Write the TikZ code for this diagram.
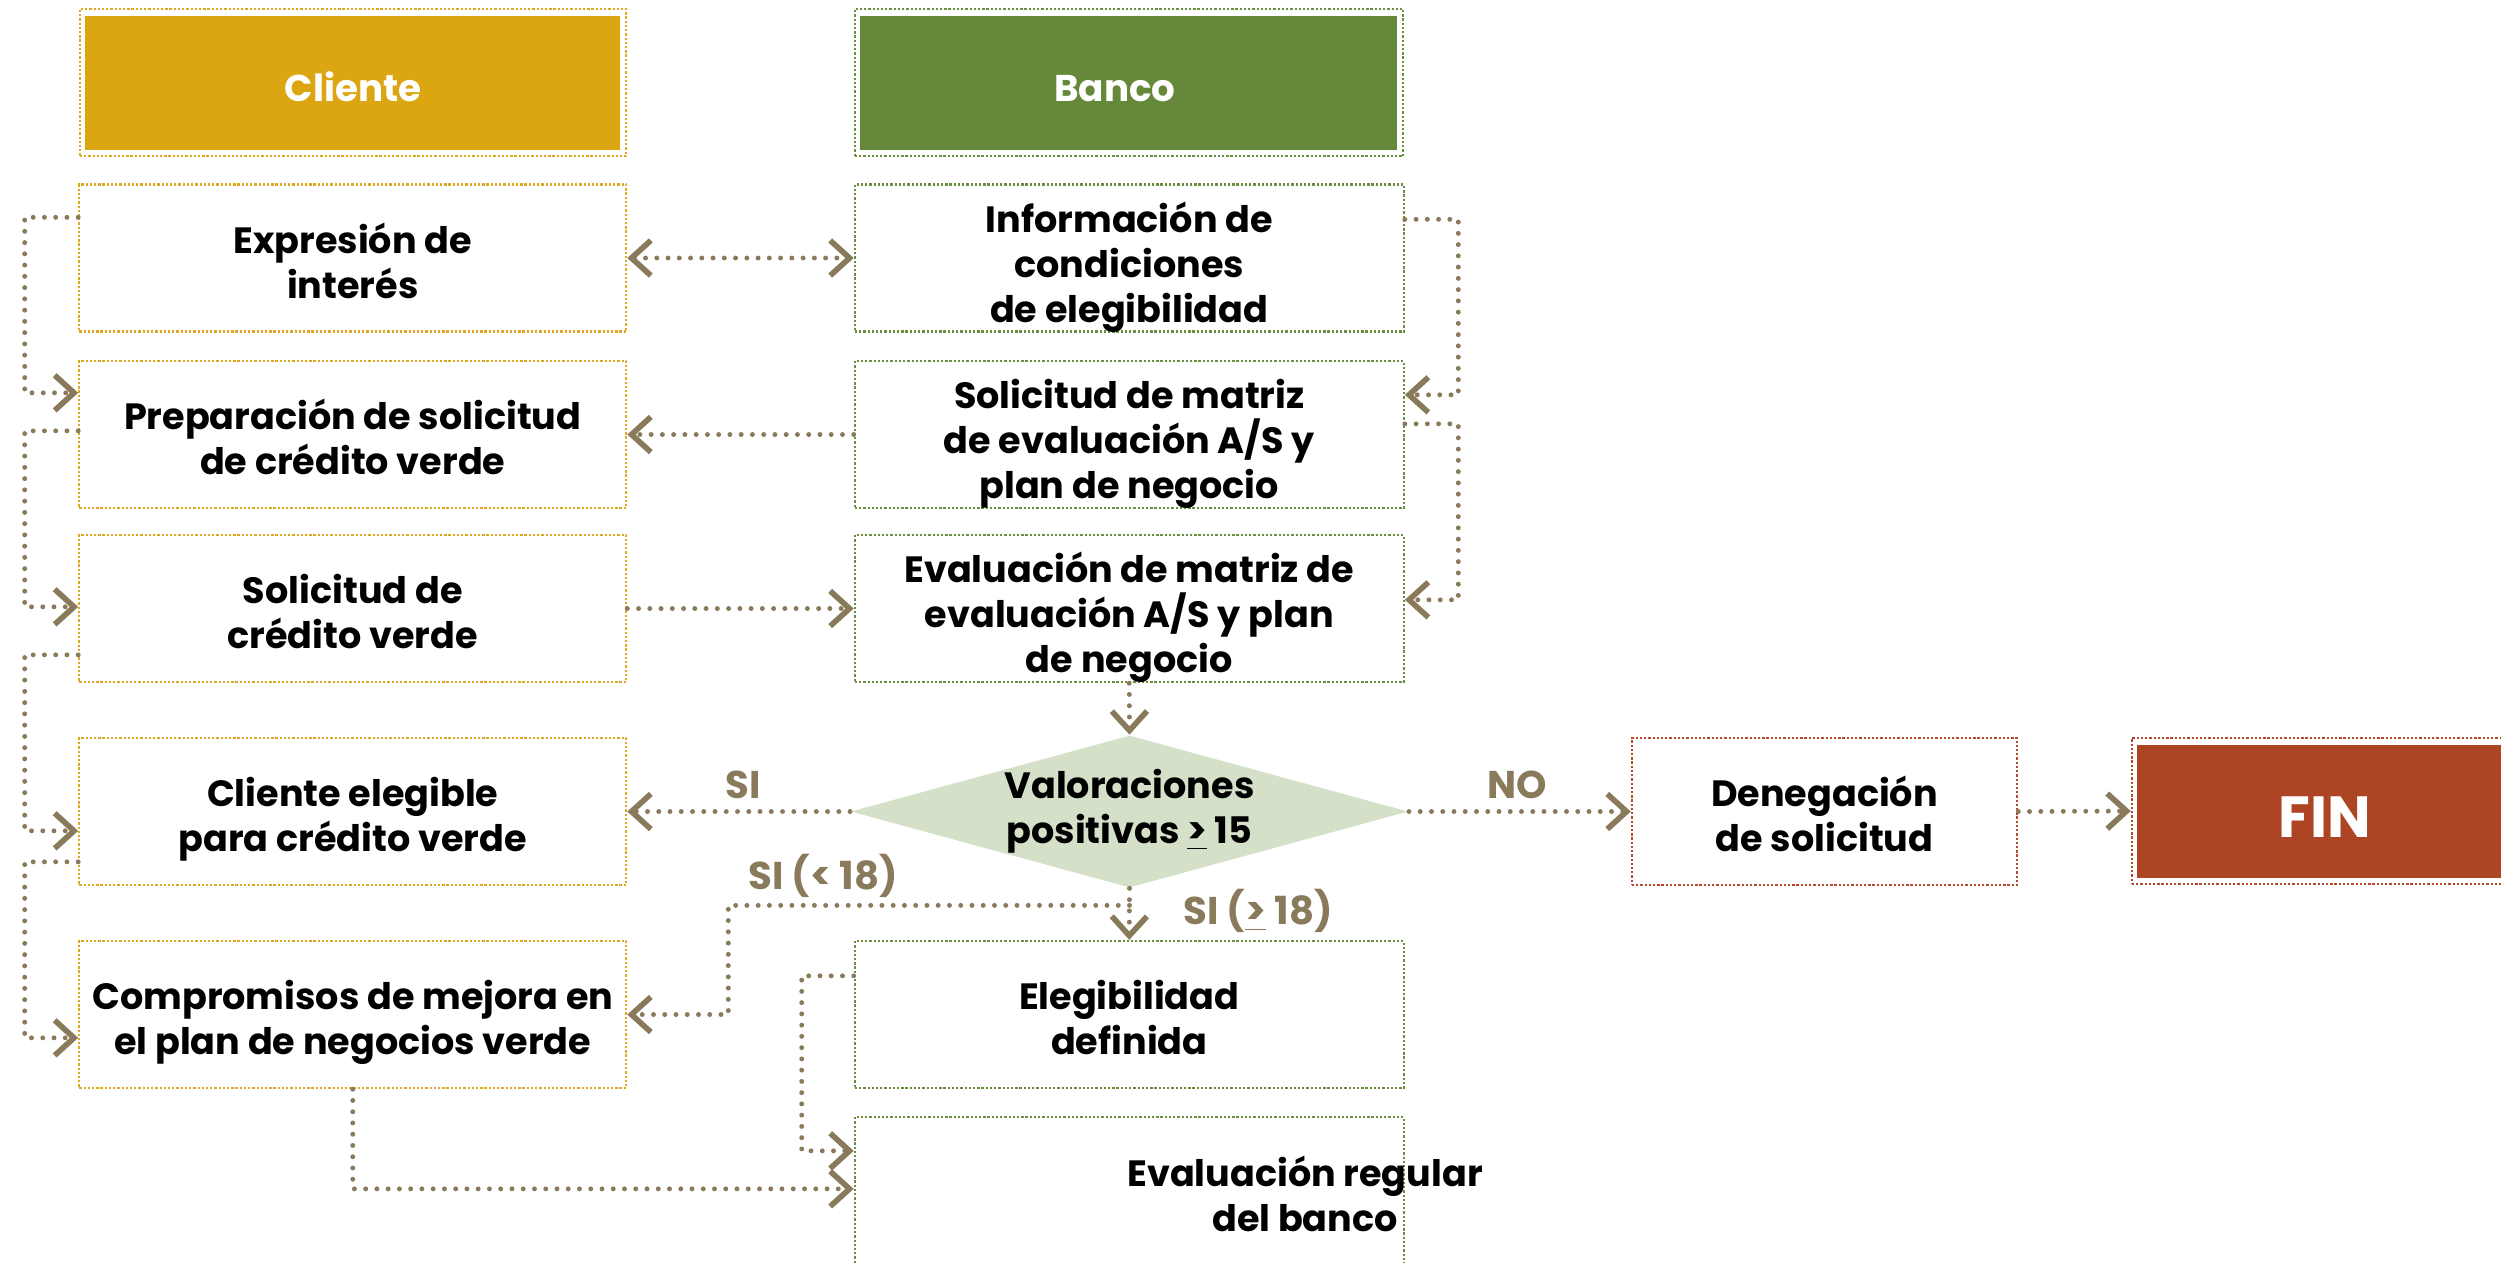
\documentclass[tikz,border=0pt]{standalone}
\usepackage{fontspec}
\setmainfont{Poppins}
\usetikzlibrary{arrows.meta,shapes.geometric,calc}
\definecolor{goldfill}{HTML}{DCA613}
\definecolor{goldline}{HTML}{E0A820}
\definecolor{greenfill}{HTML}{66883A}
\definecolor{greenline}{HTML}{6B8E3D}
\definecolor{redfill}{HTML}{AD4424}
\definecolor{redline}{HTML}{B84A2C}
\definecolor{taupe}{HTML}{8A7A5C}
\definecolor{diafill}{HTML}{D5E0C9}
\begin{document}
\begin{tikzpicture}[x=0.01cm,y=-0.01cm,
  txt/.style={font=\fontsize{10.4}{12.8}\selectfont\bfseries, align=center, inner sep=0pt, text=black},
  two/.style={text height=23pt, text depth=0pt},
  three/.style={text height=36.6pt, text depth=0pt},
  frame/.style={line width=0.65pt, dash pattern=on 0.65pt off 0.55pt},
  cbox/.style={txt, frame, draw=goldline, minimum width=5.465cm, minimum height=1.47cm},
  bbox/.style={txt, frame, draw=greenline, minimum width=5.485cm, minimum height=1.47cm},
  rbox/.style={txt, frame, draw=redline, minimum width=3.85cm, minimum height=1.47cm},
  headbox/.style={txt, frame, text=white, font=\fontsize{10.6}{13}\selectfont\bfseries,
    text height=11pt, text depth=0pt,
    path picture={\fill[#1] ($(path picture bounding box.south west)+(5,-6)$) rectangle ($(path picture bounding box.north east)+(-6,7)$);}},
  tip/.tip={Straight Barb[length=5.5pt,width=10pt,line width=1.6pt]},
  conn/.style={draw=taupe, line width=1.4pt, line cap=round, dash pattern=on 0pt off 3.2pt, -tip},
  lbl/.style={font=\fontsize{11}{12.8}\selectfont\bfseries, text=taupe, inner sep=0pt}
]
\useasboundingbox (0,0) rectangle (2501,1262);

% headers
\node[headbox=goldfill, draw=goldline, minimum width=5.46cm, minimum height=1.47cm] (cliente) at (353,82.5) {Cliente};
\node[headbox=greenfill, draw=greenline, minimum width=5.48cm, minimum height=1.47cm] (banco) at (1129,82.5) {Banco\hspace{0.28cm}};

% client column
\node[cbox, two] (expr) at (352.75,258) {Expresión de\\interés};
\node[cbox, two] (prep) at (352.75,434.5) {Preparación de solicitud\\de crédito verde};
\node[cbox, two] (sol) at (352.75,608.5) {Solicitud de\\crédito verde};
\node[cbox, two] (cel) at (352.75,811.5) {Cliente elegible\\para crédito verde};
\node[cbox, two] (comp) at (352.75,1014.5) {Compromisos de mejora en\\el plan de negocios verde};

% bank column
\node[bbox, three] (info) at (1129.25,258) {Información de\\condiciones\\de elegibilidad};
\node[bbox, three] (smat) at (1129.25,434.5) {Solicitud de matriz\\de evaluación A/S y\\plan de negocio};
\node[bbox, three] (eval) at (1129.25,608.5) {Evaluación de matriz de\\evaluación A/S y plan\\de negocio};
\node[diamond, fill=diafill, aspect=3.66, inner sep=0pt, minimum width=5.45cm, minimum height=1.49cm,
      txt] (dia) at (1129.5,811.5) {Valoraciones\\positivas \underline{>} 15};
\node[bbox, two] (eleg) at (1129.25,1014.5) {Elegibilidad\\definida};
\node[bbox] (evreg) at (1129.25,1190.5) {};
\node[txt] (evregtext) at (1305,1194) {Evaluación regular\\del banco};

% denial and end
\node[rbox, two] (den) at (1824.5,811.5) {Denegación\\de solicitud};
\node[headbox=redfill, draw=redline, minimum width=3.86cm, minimum height=1.46cm,
      font=\fontsize{16.5}{20}\selectfont\bfseries, text height=15pt] (fin) at (2325,811) {FIN};

% left loops
\draw[conn] ($(expr.north west)+(0,34)$) -| ($(prep.north west)+(-53.5,33)$) -- ($(prep.north west)+(0,33)$);
\draw[conn] ($(prep.north west)+(0,71)$) -| ($(sol.north west)+(-53.5,73)$) -- ($(sol.north west)+(0,73)$);
\draw[conn] ($(sol.north west)+(0,121)$) -| ($(cel.north west)+(-53.5,94)$) -- ($(cel.north west)+(0,94)$);
\draw[conn] ($(cel.north west)+(0,125)$) -| ($(comp.north west)+(-53.5,98)$) -- ($(comp.north west)+(0,98)$);

% right loops
\draw[conn] ($(info.north east)+(0,36)$) -| ($(smat.north east)+(53.5,35)$) -- ($(smat.north east)+(0,35)$);
\draw[conn] ($(smat.north east)+(0,64)$) -| ($(eval.north east)+(53.5,66)$) -- ($(eval.north east)+(0,66)$);

% horizontal links
\draw[conn, tip-tip] (expr.east) -- (info.west);
\draw[conn] (smat.west) -- (prep.east);
\draw[conn] (sol.east) -- (eval.west);
\draw[conn] (eval.south) -- (dia.north);
\draw[conn] (dia.west) -- (cel.east);
\draw[conn] (dia.east) -- (den.west);
\draw[conn] (den.east) -- (fin.west);
\draw[conn] (dia.south) -- (eleg.north);
\coordinate (br) at ($(dia.south)+(0,17)$);
\draw[conn] (br) -| ($(comp.east)+(101,0)$) -- (comp.east);
\draw[conn] ($(eleg.north west)+(0,36)$) -| ($(evreg.north west)+(-52,35)$) -- ($(evreg.north west)+(0,35)$);
\draw[conn] (comp.south) |- ($(evreg.north west)+(0,73)$);

% labels
\node[lbl] (lsi) at (743,785) {SI};
\node[lbl] (lno) at (1517,785) {NO};
\node[lbl] (lsilt) at (823,876) {SI (< 18)};
\node[lbl] (lsige) at (1258,911) {SI (\underline{>} 18)};
\end{tikzpicture}
\end{document}
